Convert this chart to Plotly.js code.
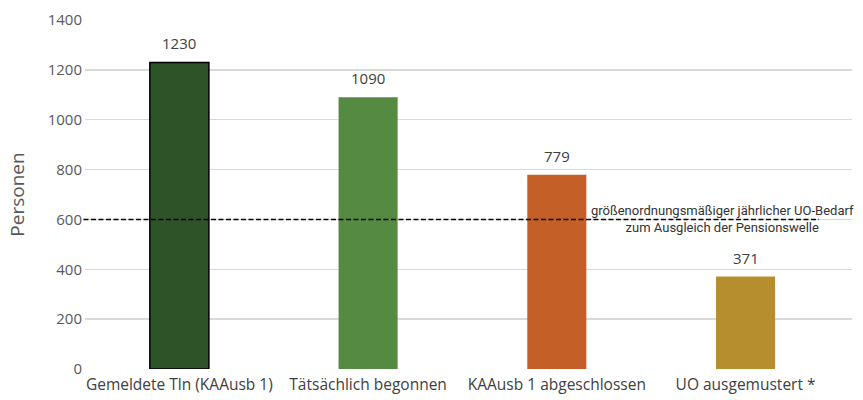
<!DOCTYPE html>
<html><head><meta charset="utf-8">
<script src="https://cdn.plot.ly/plotly-3.0.1.min.js"></script>
<style>body{margin:0;background:#fff}#c{width:863px;height:400px}</style>
</head><body><div id="c"></div>
<script>
const categories = ["Gemeldete Tln (KAAusb 1)", "Tätsächlich begonnen", "KAAusb 1 abgeschlossen", "UO ausgemustert *"];
const values = [1230, 1090, 779, 371];
const barColors = ["#2f5329", "#548a41", "#c45f28", "#b78e2d"];
const lineColors = ["#000000", "#548a41", "#c45f28", "#b78e2d"];
const threshold = 600;
const thresholdLabel = "größenordnungsmäßiger jährlicher UO-Bedarf<br>zum Ausgleich der Pensionswelle";
const yTicks = [0, 200, 400, 600, 800, 1000, 1200, 1400];

const trace = {
  type: "bar", x: categories, y: values, width: 0.313,
  marker: {color: barColors, line: {color: lineColors, width: [1.5, 0, 0, 0]}},
  hoverinfo: "none"
};
const anns = categories.map((c, i) => ({
  x: c, y: values[i], xref: "x", yref: "y", text: String(values[i]),
  showarrow: false, yanchor: "bottom", yshift: 7,
  font: {family: "Open Sans", size: 15, color: "#404040"}
}));
anns.push({
  xref: "paper", yref: "y", x: 1.0, y: threshold, xanchor: "right", yanchor: "middle",
  text: thresholdLabel, showarrow: false, align: "center",
  font: {family: "Roboto", size: 13, color: "#333333"}, xshift: 4
});
const layout = {
  width: 863, height: 400,
  margin: {l: 85, r: 11, t: 20, b: 31},
  paper_bgcolor: "#fff", plot_bgcolor: "#fff",
  showlegend: false,
  font: {family: "Open Sans", color: "#595959", size: 14},
  xaxis: {type: "category", range: [-0.5, 3.564], showgrid: false, zeroline: false, showline: false, ticks: "",
          tickfont: {size: 15.5, color: "#404040"}, ticklabelstandoff: 4},
  yaxis: {range: [0, 1400], tickvals: yTicks, gridcolor: "#d9d9d9", gridwidth: 1.5, zeroline: false,
          showline: false, ticks: "", ticklen: 0, tickfont: {size: 15, color: "#595959"}, ticklabelstandoff: 2,
          title: {text: "Personen", font: {size: 19, color: "#595959"}, standoff: 18}},
  shapes: [{type: "line", xref: "paper", yref: "y", x0: -0.002, x1: 0.957, y0: threshold, y1: threshold,
            line: {color: "#000", width: 1.5, dash: "5px,2.5px"}}],
  annotations: anns
};
Plotly.newPlot("c", [trace], layout, {displayModeBar: false, staticPlot: true});
</script></body></html>
